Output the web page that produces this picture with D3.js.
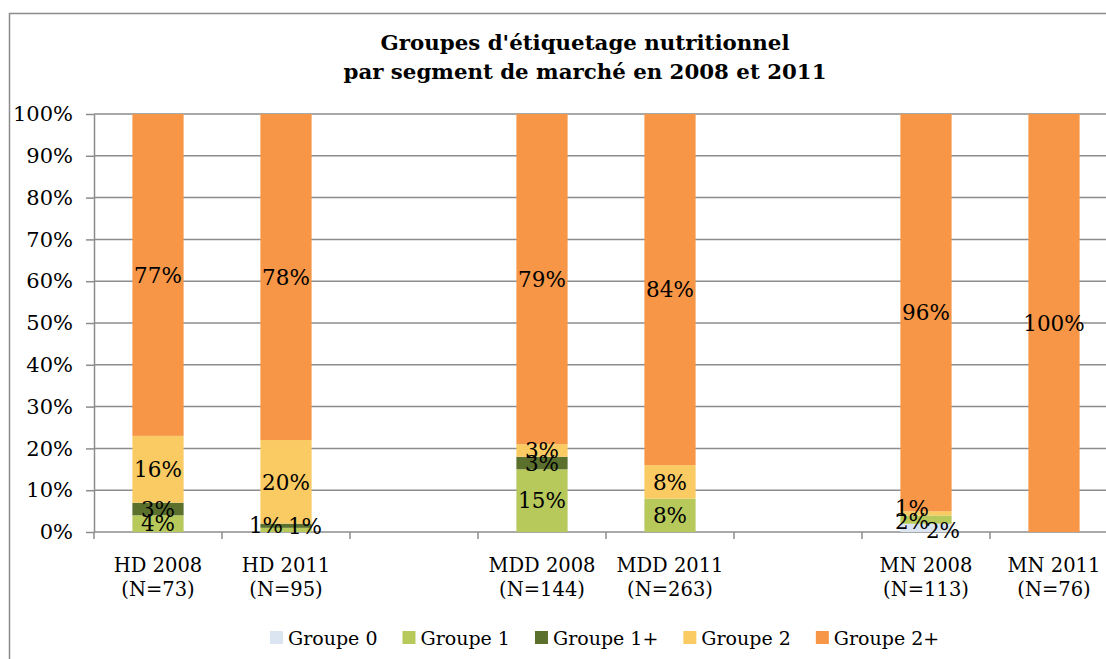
<!DOCTYPE html>
<html>
<head>
<meta charset="utf-8">
<script src="https://cdn.jsdelivr.net/npm/d3@7"></script>
<style>
  html, body { margin: 0; padding: 0; background: #fff; }
  svg { display: block; }
</style>
</head>
<body>
<svg id="chart" width="1106" height="659"></svg>
<script>
// ---------- data ----------
const categoryNames = ["HD 2008", "HD 2011", "", "MDD 2008", "MDD 2011", "", "MN 2008", "MN 2011"];
const categoryN     = ["(N=73)", "(N=95)", "", "(N=144)", "(N=263)", "", "(N=113)", "(N=76)"];
const seriesNames = ["Groupe 0", "Groupe 1", "Groupe 1+", "Groupe 2", "Groupe 2+"];
const groupe0     = [0, 0, 0, 0, 0, 0, 2, 0];
const groupe1     = [4, 1, 0, 15, 8, 0, 2, 0];
const groupe1plus = [3, 1, 0, 3, 0, 0, 0, 0];
const groupe2     = [16, 20, 0, 3, 8, 0, 1, 0];
const groupe2plus = [77, 78, 0, 79, 84, 0, 96, 100];
const yTicks = [0, 0.1, 0.2, 0.3, 0.4, 0.5, 0.6, 0.7, 0.8, 0.9, 1];
const titleLines = ["Groupes d'étiquetage nutritionnel", "par segment de marché en 2008 et 2011"];

// style
const colors = ["#DBE5F1", "#B8C95C", "#5B702D", "#F9CB62", "#F79646"];
// label nudges (dx, dy) where labels were moved to avoid overlaps: key "series-category"
const labelNudge = { "1-1": [-20, -5], "2-1": [19, 1], "0-6": [17, 2], "1-6": [-14, 2], "3-6": [-14, -5] };

(function () {
const valuesBySeries = [groupe0, groupe1, groupe1plus, groupe2, groupe2plus];
const rows = categoryNames.map((c, i) => {
  const r = { idx: i };
  seriesNames.forEach((s, j) => r[s] = valuesBySeries[j][i]);
  return r;
});

const svg = d3.select("#chart");
const FONT = "'DejaVu Serif', serif";
const plotLeft = 94, plotTop = 114, plotBottom = 532;
const slot = 128;
const plotRight = plotLeft + slot * categoryNames.length;

// chart border
svg.append("path")
  .attr("d", `M9.5,${659 + 5}V13.5H${1106 + 5}`)
  .attr("fill", "none").attr("stroke", "#8c8c8c").attr("stroke-width", 1.5);

// title
svg.append("g").selectAll("text").data(titleLines).join("text")
  .attr("x", 585).attr("y", (d, i) => 50 + i * 29)
  .attr("text-anchor", "middle")
  .attr("font-family", FONT).attr("font-weight", "bold").attr("font-size", 20.5)
  .attr("textLength", (d, i) => i === 0 ? 409 : 483)
  .attr("lengthAdjust", "spacingAndGlyphs")
  .attr("fill", "#000")
  .text(d => d);

const x = d3.scaleBand().domain(d3.range(categoryNames.length)).range([plotLeft, plotRight])
  .paddingInner(0.6).paddingOuter(0.3);
const y = d3.scaleLinear().domain([0, 1]).range([plotBottom, plotTop]);

// gridlines
svg.append("g").selectAll("line").data(yTicks.filter(t => t > 0)).join("line")
  .attr("x1", plotLeft).attr("x2", 1106).attr("y1", d => y(d)).attr("y2", d => y(d))
  .attr("stroke", "#8c8c8c").attr("stroke-width", 1.5);

// y axis
const yAxis = svg.append("g").attr("transform", `translate(${plotLeft},0)`)
  .call(d3.axisLeft(y).tickValues(yTicks).tickFormat(d3.format(".0%")).tickSizeOuter(0).tickSizeInner(8).tickPadding(13));
yAxis.select(".domain").attr("stroke", "#8c8c8c").attr("stroke-width", 1.5);
yAxis.selectAll(".tick line").attr("stroke", "#8c8c8c").attr("stroke-width", 1.5);
yAxis.selectAll(".tick text").attr("font-family", FONT).attr("font-size", 21).attr("fill", "#000");

// x axis (ticks at slot boundaries)
const xAxisG = svg.append("g");
xAxisG.append("line").attr("x1", plotLeft).attr("x2", 1106).attr("y1", plotBottom).attr("y2", plotBottom)
  .attr("stroke", "#8c8c8c").attr("stroke-width", 1.5);
xAxisG.selectAll("line.tk").data(d3.range(categoryNames.length + 1)).join("line").attr("class", "tk")
  .attr("x1", d => plotLeft + d * x.step()).attr("x2", d => plotLeft + d * x.step())
  .attr("y1", plotBottom).attr("y2", plotBottom + 7)
  .attr("stroke", "#8c8c8c").attr("stroke-width", 1.5);
const xl = xAxisG.selectAll("text.cat").data(d3.range(categoryNames.length)).join("text").attr("class", "cat")
  .attr("text-anchor", "middle").attr("font-family", FONT).attr("font-size", 19.5).attr("fill", "#000");
xl.append("tspan").attr("x", d => x(d) + x.bandwidth() / 2).attr("y", 572).text(d => categoryNames[d]);
xl.append("tspan").attr("x", d => x(d) + x.bandwidth() / 2).attr("y", 596).text(d => categoryN[d]);

// stacked bars
const stack = d3.stack().keys(seriesNames).offset(d3.stackOffsetExpand);
const stacked = stack(rows);

const layers = svg.append("g").selectAll("g").data(stacked).join("g")
  .attr("fill", (d, i) => colors[i]);
layers.selectAll("rect").data(d => d).join("rect")
  .attr("x", d => x(d.data.idx))
  .attr("width", x.bandwidth())
  .attr("y", d => y(d[1]))
  .attr("height", d => Math.max(0, y(d[0]) - y(d[1])));

// data labels
const labels = svg.append("g");
stacked.forEach((layer, si) => {
  layer.forEach(d => {
    const v = valuesBySeries[si][d.data.idx];
    if (!v) return;
    const nudge = labelNudge[`${si}-${d.data.idx}`] || [0, 0];
    labels.append("text")
      .attr("x", x(d.data.idx) + x.bandwidth() / 2 + nudge[0])
      .attr("y", (y(d[0]) + y(d[1])) / 2 + nudge[1])
      .attr("dy", "0.36em")
      .attr("text-anchor", "middle")
      .attr("font-family", FONT).attr("font-size", 21.5).attr("fill", "#000")
      .text(v + "%");
  });
});

// legend
const legend = svg.append("g").attr("transform", "translate(270,638)");
let lx = 0;
seriesNames.forEach((s, i) => {
  const g = legend.append("g").attr("transform", `translate(${lx},0)`);
  g.append("rect").attr("x", 0).attr("y", -7).attr("width", 13).attr("height", 13).attr("fill", colors[i]);
  const t = g.append("text").attr("x", 18).attr("y", 0).attr("dy", "0.36em")
    .attr("font-family", FONT).attr("font-size", 19).attr("fill", "#000").text(s);
  lx += 18 + t.node().getComputedTextLength() + 25;
});
})();
</script>
</body>
</html>
